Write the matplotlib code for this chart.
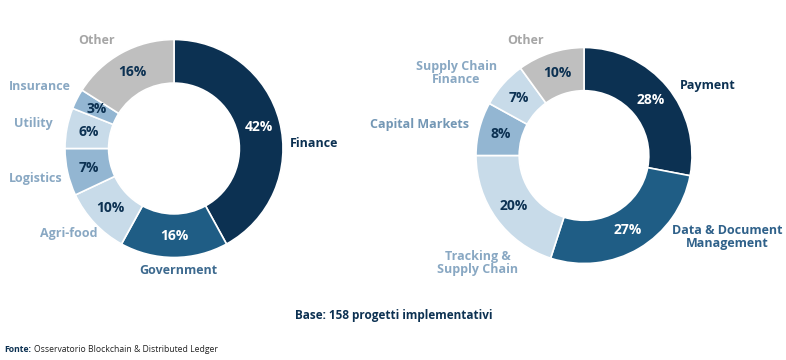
import numpy as np
import matplotlib
matplotlib.use('Agg')
import matplotlib.pyplot as plt

plt.rcParams['font.family'] = ['Open Sans', 'DejaVu Sans']

# left donut: sectors
left_labels = ['Finance', 'Government', 'Agri-food', 'Logistics', 'Utility', 'Insurance', 'Other']
left_values = [42, 16, 10, 7, 6, 3, 16]

# right donut: applications
right_labels = ['Payment', 'Data & Document\nManagement', 'Tracking &\nSupply Chain',
                'Capital Markets', 'Supply Chain\nFinance', 'Other']
right_values = [28, 27, 20, 8, 7, 10]

base_text = 'Base: 158 progetti implementativi'
source_text = 'Osservatorio Blockchain & Distributed Ledger'

NAVY = '#0c3152'
MID = '#1f5d85'
LIGHT = '#c8dbe9'
MED = '#93b6d2'
GREY = '#bfbfbf'

left_colors = [NAVY, MID, LIGHT, MED, LIGHT, MED, GREY]
right_colors = [NAVY, MID, LIGHT, MED, LIGHT, GREY]
left_lab_col = [NAVY, '#3d6a8f', '#89a8c3', '#89a8c3', '#89a8c3', '#89a8c3', '#a6a6a6']
right_lab_col = [NAVY, '#2f618a', '#89a8c3', '#7397b5', '#89a8c3', '#a6a6a6']

# label placement tweaks: angle nudge (deg), radius (x R), alignment
left_nudge = [-12, 2, 5, 2.5, -1, -4, 6.7]
left_rad = [1.06, 1.12, 1.05, 1.055, 1.14, 1.10, 1.22]
left_ha = ['left', 'center', 'right', 'right', 'right', 'right', 'center']
right_nudge = [-3.7, 16.8, 22.6, -0.5, -2, 9]
right_rad = [1.10, 1.11, 1.17, 1.10, 1.11, 1.20]
right_ha = ['left', 'left', 'right', 'right', 'right', 'center']

W, H = 786, 360
fig = plt.figure(figsize=(W / 100, H / 100), dpi=100)
ax = fig.add_axes([0, 0, 1, 1])


def donut(vals, labels, colors, lab_cols, nudge, rad, has, center, R):
    wedges, texts, autotexts = ax.pie(
        vals, center=center, radius=R, startangle=90, counterclock=False,
        colors=colors, autopct=lambda p: '%.0f%%' % p, pctdistance=0.8,
        wedgeprops=dict(width=0.4 * R, edgecolor='white', linewidth=1.2),
        textprops=dict(fontsize=10, fontweight='bold'))
    for w, t, c in zip(wedges, autotexts, colors):
        t.set_color('white' if c in (NAVY, MID) else NAVY)
    for w, lab, col, dn, r, ha in zip(wedges, labels, lab_cols, nudge, rad, has):
        ang = np.deg2rad((w.theta1 + w.theta2) / 2 + dn)
        x = center[0] + r * R * np.cos(ang)
        y = center[1] + r * R * np.sin(ang)
        ax.text(x, y, lab, ha=ha, va='center', multialignment='center',
                color=col, fontsize=9, fontweight='bold', linespacing=1.0)


donut(left_values, left_labels, left_colors, left_lab_col, left_nudge, left_rad, left_ha,
      (174, H - 148.5), 109)
donut(right_values, right_labels, right_colors, right_lab_col, right_nudge, right_rad, right_ha,
      (584, H - 155.5), 108)

ax.set_xlim(0, W)
ax.set_ylim(0, H)
ax.set_aspect('equal')
ax.axis('off')

fig.text(394 / W, 1 - 315 / H, base_text, ha='center', va='center',
         color=NAVY, fontsize=8.5, fontweight='bold')

t1 = fig.text(4 / W, 1 - 350 / H, 'Fonte:', ha='left', va='center',
              color=NAVY, fontsize=6.2, fontweight='bold')
fig.canvas.draw()
bb = t1.get_window_extent()
fig.text((bb.x1 + 3) / W, 1 - 350 / H, source_text, ha='left', va='center',
         color='#222222', fontsize=6.2)

fig.savefig('out.png', dpi=100)
